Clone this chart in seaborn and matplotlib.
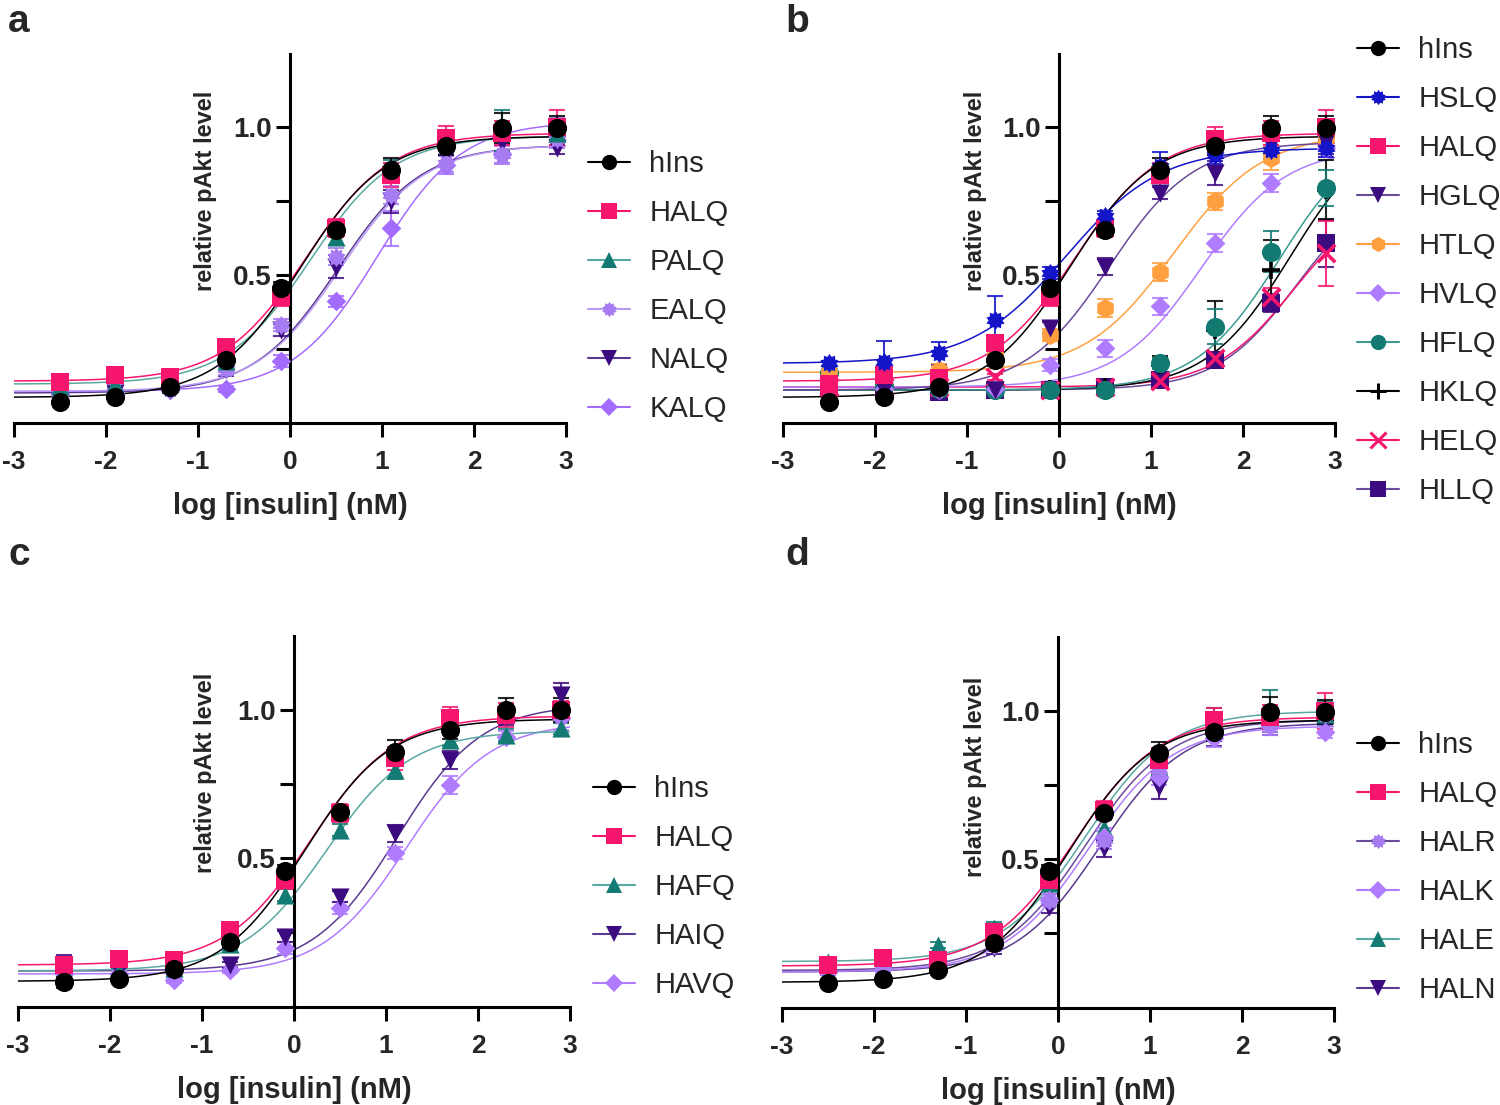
import numpy as np
import pandas as pd
import matplotlib
matplotlib.use("Agg")
import matplotlib.pyplot as plt
from matplotlib.lines import Line2D
from matplotlib.path import Path
import seaborn as sns

sns.set_theme(style="white")
plt.rcParams['font.family'] = ['Liberation Sans', 'DejaVu Sans']

# ---------------- data ----------------
log_conc = [-2.50, -1.90, -1.30, -0.70, -0.10, 0.50, 1.10, 1.70, 2.30, 2.90]

# colours / markers per peptide
colors = {
    'hIns': '#000000', 'HALQ': '#F7166E', 'PALQ': '#147A74', 'EALQ': '#A77CF2',
    'NALQ': '#3D0B80', 'KALQ': '#A46BFF', 'HSLQ': '#1414C8', 'HGLQ': '#3D0B80',
    'HTLQ': '#FFA040', 'HVLQ': '#B07CFF', 'HFLQ': '#137A72', 'HKLQ': '#000000',
    'HELQ': '#F7166E', 'HLLQ': '#3D0B80', 'HAFQ': '#147A74', 'HAIQ': '#3D0B80',
    'HAVQ': '#B07CFF', 'HALR': '#A77CF2', 'HALK': '#B07CFF', 'HALE': '#147A74',
    'HALN': '#3D0B80',
}
curve_colors = {'EALQ': '#B99AF5', 'HGLQ': '#6A4A9A', 'HLLQ': '#6A4A9A',
                'HALR': '#6A4A9A', 'HAIQ': '#5A3A90', 'NALQ': '#5A3A90',
                'HALN': '#5A3A90', 'PALQ': '#5AA8A2', 'HAFQ': '#5AA8A2',
                'HALE': '#5AA8A2', 'HFLQ': '#3C9A92'}

# bumpy "star" marker (filled)
_npts = 10
_ang = np.linspace(0, 2 * np.pi, 2 * _npts, endpoint=False) + np.pi / 2
_rad = np.where(np.arange(2 * _npts) % 2 == 0, 1.0, 0.72)
_verts = np.column_stack([_rad * np.cos(_ang), _rad * np.sin(_ang)])
_verts = np.vstack([_verts, _verts[:1]])
star8 = Path(_verts, [Path.MOVETO] + [Path.LINETO] * (len(_verts) - 2) + [Path.CLOSEPOLY])

markers = {
    'hIns': 'o', 'HALQ': 's', 'PALQ': '^', 'EALQ': star8, 'NALQ': 'v', 'KALQ': 'D',
    'HSLQ': star8, 'HGLQ': 'v', 'HTLQ': 'h', 'HVLQ': 'D', 'HFLQ': 'o', 'HKLQ': '+',
    'HELQ': 'x', 'HLLQ': 's', 'HAFQ': '^', 'HAIQ': 'v', 'HAVQ': 'D', 'HALR': star8,
    'HALK': 'D', 'HALE': '^', 'HALN': 'v',
}

# panel a
a_names = ['hIns', 'HALQ', 'PALQ', 'EALQ', 'NALQ', 'KALQ']
a_values = [
    [0.070, 0.087, 0.121, 0.212, 0.455, 0.653, 0.856, 0.936, 0.998, 0.998],
    [0.138, 0.161, 0.155, 0.257, 0.426, 0.658, 0.839, 0.964, 0.980, 1.000],
    [0.125, 0.130, 0.140, 0.210, 0.430, 0.630, 0.850, 0.960, 0.990, 0.980],
    [0.100, 0.105, 0.115, 0.180, 0.330, 0.562, 0.770, 0.880, 0.907, 0.960],
    [0.100, 0.100, 0.110, 0.178, 0.313, 0.528, 0.749, 0.900, 0.950, 0.930],
    [0.095, 0.100, 0.110, 0.115, 0.209, 0.410, 0.658, 0.873, 0.910, 1.000],
]
a_errors = [
    [0.01, 0.01, 0.01, 0.02, 0.02, 0.02, 0.04, 0.03, 0.05, 0.04],
    [0.02, 0.01, 0.01, 0.02, 0.03, 0.03, 0.04, 0.04, 0.04, 0.06],
    [0.02, 0.01, 0.01, 0.02, 0.02, 0.03, 0.04, 0.03, 0.07, 0.04],
    [0.01, 0.01, 0.01, 0.02, 0.02, 0.03, 0.03, 0.03, 0.03, 0.03],
    [0.01, 0.01, 0.01, 0.02, 0.02, 0.04, 0.04, 0.03, 0.03, 0.02],
    [0.01, 0.01, 0.01, 0.01, 0.02, 0.02, 0.06, 0.03, 0.03, 0.03],
]
# fitted curve parameters: bottom, top, logEC50, hill slope
a_fit = [
    [0.085, 0.97, 0.12, 0.95],
    [0.140, 0.98, 0.18, 0.95],
    [0.130, 0.97, 0.22, 0.95],
    [0.105, 0.94, 0.55, 0.95],
    [0.100, 0.94, 0.52, 0.95],
    [0.105, 1.02, 0.95, 0.95],
]

# panel b
b_names = ['hIns', 'HSLQ', 'HALQ', 'HGLQ', 'HTLQ', 'HVLQ', 'HFLQ', 'HKLQ', 'HELQ', 'HLLQ']
b_values = [
    [0.070, 0.087, 0.121, 0.212, 0.455, 0.653, 0.856, 0.936, 0.998, 0.998],
    [0.200, 0.206, 0.234, 0.347, 0.506, 0.698, 0.868, 0.907, 0.924, 0.930],
    [0.132, 0.160, 0.150, 0.268, 0.426, 0.660, 0.840, 0.960, 0.980, 1.000],
    [0.110, 0.110, 0.110, 0.110, 0.319, 0.528, 0.777, 0.845, 0.940, 0.950],
    [0.166, 0.149, 0.178, 0.228, 0.296, 0.387, 0.511, 0.749, 0.896, 0.964],
    [0.120, 0.115, 0.110, 0.115, 0.195, 0.251, 0.393, 0.607, 0.811, 0.930],
    [0.166, 0.125, 0.115, 0.110, 0.110, 0.110, 0.200, 0.325, 0.579, 0.794],
    [0.110, 0.110, 0.110, 0.110, 0.115, 0.120, 0.195, 0.313, 0.517, 0.788],
    [0.120, 0.120, 0.120, 0.155, 0.110, 0.120, 0.140, 0.217, 0.426, 0.574],
    [0.120, 0.120, 0.104, 0.110, 0.110, 0.120, 0.144, 0.212, 0.404, 0.607],
]
b_errors = [
    [0.01, 0.01, 0.01, 0.02, 0.02, 0.02, 0.04, 0.03, 0.04, 0.04],
    [0.01, 0.07, 0.04, 0.08, 0.02, 0.02, 0.05, 0.03, 0.03, 0.03],
    [0.02, 0.01, 0.01, 0.02, 0.03, 0.03, 0.04, 0.04, 0.04, 0.06],
    [0.01, 0.01, 0.01, 0.01, 0.02, 0.03, 0.02, 0.04, 0.03, 0.04],
    [0.01, 0.01, 0.02, 0.02, 0.02, 0.03, 0.03, 0.03, 0.04, 0.03],
    [0.01, 0.01, 0.01, 0.01, 0.02, 0.03, 0.03, 0.03, 0.03, 0.03],
    [0.01, 0.01, 0.01, 0.01, 0.01, 0.01, 0.02, 0.06, 0.07, 0.06],
    [0.01, 0.01, 0.01, 0.01, 0.01, 0.01, 0.03, 0.10, 0.10, 0.10],
    [0.01, 0.01, 0.01, 0.01, 0.01, 0.01, 0.02, 0.02, 0.03, 0.11],
    [0.01, 0.01, 0.01, 0.01, 0.01, 0.01, 0.02, 0.02, 0.03, 0.08],
]
b_fit = [
    [0.085, 0.97, 0.12, 0.95],
    [0.200, 0.93, 0.08, 0.85],
    [0.140, 0.98, 0.18, 0.95],
    [0.110, 0.95, 0.55, 0.95],
    [0.170, 0.98, 1.25, 0.90],
    [0.120, 0.93, 1.55, 0.95],
    [0.110, 1.00, 2.40, 0.95],
    [0.110, 1.02, 2.52, 0.95],
    [0.120, 0.78, 2.55, 1.00],
    [0.110, 0.82, 2.58, 1.00],
]

# panel c
c_names = ['hIns', 'HALQ', 'HAFQ', 'HAIQ', 'HAVQ']
c_values = [
    [0.081, 0.092, 0.126, 0.216, 0.458, 0.657, 0.860, 0.933, 1.000, 1.000],
    [0.140, 0.160, 0.157, 0.258, 0.427, 0.652, 0.837, 0.972, 0.983, 1.000],
    [0.120, 0.120, 0.130, 0.210, 0.376, 0.596, 0.798, 0.899, 0.916, 0.938],
    [0.125, 0.120, 0.120, 0.140, 0.236, 0.371, 0.584, 0.831, 0.980, 1.050],
    [0.110, 0.110, 0.090, 0.124, 0.197, 0.331, 0.517, 0.747, 0.910, 0.972],
]
c_errors = [
    [0.02, 0.01, 0.01, 0.02, 0.02, 0.02, 0.04, 0.03, 0.04, 0.04],
    [0.02, 0.01, 0.01, 0.02, 0.03, 0.03, 0.04, 0.04, 0.04, 0.03],
    [0.02, 0.01, 0.01, 0.02, 0.02, 0.02, 0.03, 0.02, 0.02, 0.02],
    [0.05, 0.01, 0.01, 0.01, 0.02, 0.02, 0.03, 0.03, 0.03, 0.04],
    [0.01, 0.01, 0.01, 0.01, 0.02, 0.02, 0.02, 0.03, 0.02, 0.04],
]
c_fit = [
    [0.085, 0.97, 0.12, 0.95],
    [0.140, 0.98, 0.18, 0.95],
    [0.120, 0.93, 0.35, 0.95],
    [0.120, 1.02, 1.12, 0.95],
    [0.110, 0.96, 1.22, 0.95],
]

# panel d
d_names = ['hIns', 'HALQ', 'HALR', 'HALK', 'HALE', 'HALN']
d_values = [
    [0.082, 0.096, 0.127, 0.219, 0.462, 0.655, 0.857, 0.930, 0.998, 0.998],
    [0.144, 0.166, 0.161, 0.256, 0.430, 0.666, 0.835, 0.970, 0.980, 1.000],
    [0.125, 0.140, 0.140, 0.215, 0.363, 0.565, 0.800, 0.930, 0.960, 0.990],
    [0.120, 0.130, 0.135, 0.210, 0.363, 0.576, 0.779, 0.910, 0.950, 0.930],
    [0.155, 0.160, 0.211, 0.267, 0.420, 0.604, 0.812, 0.970, 1.000, 0.990],
    [0.120, 0.120, 0.130, 0.200, 0.340, 0.537, 0.745, 0.913, 0.950, 0.960],
]
d_errors = [
    [0.01, 0.01, 0.01, 0.02, 0.02, 0.02, 0.04, 0.03, 0.05, 0.04],
    [0.02, 0.01, 0.01, 0.02, 0.03, 0.03, 0.04, 0.04, 0.04, 0.06],
    [0.01, 0.01, 0.01, 0.02, 0.02, 0.03, 0.03, 0.03, 0.03, 0.03],
    [0.01, 0.01, 0.01, 0.02, 0.02, 0.03, 0.03, 0.03, 0.03, 0.02],
    [0.01, 0.01, 0.01, 0.02, 0.02, 0.03, 0.03, 0.04, 0.07, 0.04],
    [0.01, 0.01, 0.01, 0.02, 0.02, 0.03, 0.04, 0.03, 0.03, 0.03],
]
d_fit = [
    [0.085, 0.97, 0.12, 0.95],
    [0.140, 0.98, 0.18, 0.95],
    [0.125, 0.97, 0.30, 0.95],
    [0.120, 0.95, 0.33, 0.95],
    [0.155, 1.00, 0.30, 0.95],
    [0.120, 0.96, 0.45, 0.95],
]

panel_letters = ['a', 'b', 'c', 'd']
x_ticks = [-3, -2, -1, 0, 1, 2, 3]
y_major = [0.5, 1.0]
y_minor = [0.25, 0.75]
xlabel = 'log [insulin] (nM)'
ylabel = 'relative pAkt level'

# ---------------- figure ----------------
W, H = 1500, 1105
fig = plt.figure(figsize=(W / 100, H / 100), dpi=100)

def px_axes(x0, x1, y_top, y_bot):
    return fig.add_axes([x0 / W, 1 - y_bot / H, (x1 - x0) / W, (y_bot - y_top) / H])

axes_boxes = [
    (14, 566, 53.5, 422.5),
    (783, 1335, 53.5, 422.5),
    (18, 570, 636, 1006.5),
    (782, 1334, 637, 1007.5),
]
ylabel_coords = [(0.368, 0.627), (0.369, 0.627), (0.361, 0.630), (0.371, 0.622)]
legend_anchor = [(588, 150), (1357, 36), (593, 775), (1357, 731)]
letter_pos = [(8, 32), (785, 32), (8, 565), (785, 565)]

panels = [
    (a_names, a_values, a_errors, a_fit),
    (b_names, b_values, b_errors, b_fit),
    (c_names, c_values, c_errors, c_fit),
    (d_names, d_values, d_errors, d_fit),
]

xs_fine = np.linspace(-3, 3, 300)

def size_for(m):
    if isinstance(m, Path):
        return 190
    if m in ('o', 'h'):
        return 190
    if m == 's':
        return 170
    if m in ('^', 'v'):
        return 170
    if m == 'D':
        return 100
    if m in ('+', 'x'):
        return 160
    return 200

for i, (names, values, errors, fits) in enumerate(panels):
    ax = px_axes(*axes_boxes[i])
    ax.set_xlim(-3, 3)
    ax.set_ylim(0, 1.25)
    n = len(names)
    # fitted curves
    for j in range(n - 1, -1, -1):
        nm = names[j]
        bot, top, ec, hs = fits[j]
        ys = bot + (top - bot) / (1 + 10 ** ((ec - xs_fine) * hs))
        sns.lineplot(x=xs_fine, y=ys, ax=ax, color=curve_colors.get(nm, colors[nm]),
                     linewidth=1.1, zorder=2, legend=False)
    # error bars + points
    for j in range(n - 1, -1, -1):
        nm = names[j]
        col = colors[nm]
        ax.errorbar(log_conc, values[j], yerr=errors[j], fmt='none', ecolor=col,
                    elinewidth=1.5, capsize=6, capthick=1.5, zorder=3, clip_on=False,
                    alpha=0.85)
        m = markers[nm]
        df = pd.DataFrame({'x': log_conc, 'y': values[j]})
        if m in ('+', 'x'):
            kw = dict(linewidth=2.6)
        else:
            kw = dict(linewidth=0)
        sns.scatterplot(data=df, x='x', y='y', ax=ax, marker=m, color=col,
                        s=size_for(m), zorder=4, clip_on=False, legend=False, **kw)

    # axes styling
    for s in ['top', 'right']:
        ax.spines[s].set_visible(False)
    ax.spines['left'].set_position(('data', 0))
    for s in ['left', 'bottom']:
        ax.spines[s].set_linewidth(2.2)
        ax.spines[s].set_color('black')
    ax.set_xticks(x_ticks)
    ax.set_xticklabels([str(t) for t in x_ticks], fontsize=19, fontweight='bold')
    ax.set_yticks(y_major)
    ax.set_yticklabels(['0.5', '1.0'], fontsize=20, fontweight='bold')
    ax.set_yticks(y_minor, minor=True)
    ax.tick_params(axis='x', which='major', direction='out', length=10, width=2.2,
                   color='black', pad=10, bottom=True)
    ax.tick_params(axis='y', which='both', direction='out', length=10, width=2.2,
                   color='black', pad=3, left=True)
    ax.set_xlabel(xlabel, fontsize=21, fontweight='bold', labelpad=13)
    ax.set_ylabel(ylabel, fontsize=17, fontweight='bold')
    ax.yaxis.set_label_coords(*ylabel_coords[i])
    ax.grid(False)
    ax.set_facecolor('none')

    # legend
    handles = []
    for nm in names:
        m = markers[nm]
        ms = 11 if m != 'D' else 9
        h = Line2D([0], [0], color=curve_colors.get(nm, colors[nm]), linewidth=1.5,
                   marker=m, markersize=ms, markerfacecolor=colors[nm],
                   markeredgecolor=colors[nm],
                   markeredgewidth=2.2 if m in ('+', 'x') else 0)
        handles.append(h)
    lx, ly = legend_anchor[i]
    fig.legend(handles, names, loc='upper left', bbox_to_anchor=(lx / W, 1 - ly / H),
               frameon=False, fontsize=21, handlelength=1.45, handletextpad=0.65,
               labelspacing=0.72, borderpad=0, borderaxespad=0)

    tx, ty = letter_pos[i]
    fig.text(tx / W, 1 - ty / H, panel_letters[i], fontsize=28, fontweight='bold',
             ha='left', va='baseline')

fig.savefig('out.png', dpi=100, facecolor='white')
